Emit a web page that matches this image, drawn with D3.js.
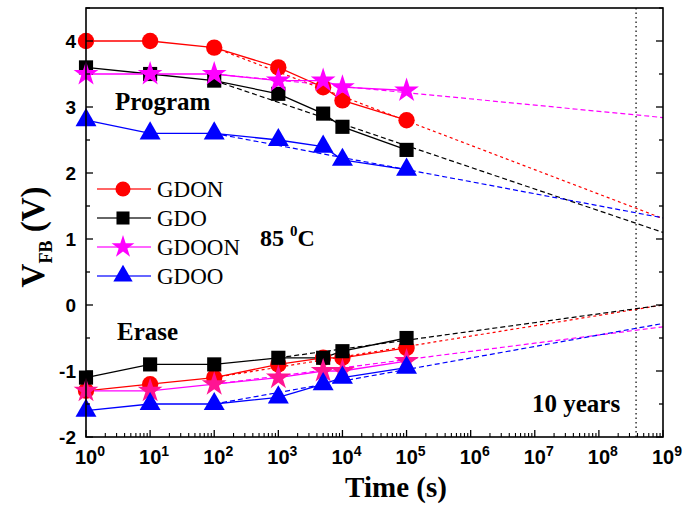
<!DOCTYPE html>
<html><head><meta charset="utf-8">
<script src="https://cdn.jsdelivr.net/npm/d3@7"></script>
<style>body{margin:0;background:#fff}svg{display:block}
.sans{font-family:'Liberation Sans',Arial,sans-serif;font-weight:bold}
.serif{font-family:'Liberation Serif','Times New Roman',serif}
</style>
</head><body>
<script>
const times = [1, 10, 100, 1000, 5000, 10000, 100000];
const seriesNames = ["GDON", "GDO", "GDOON", "GDOO"];
const progGDON  = [4.0, 4.0, 3.9, 3.6, 3.3, 3.1, 2.8];
const progGDO   = [3.6, 3.5, 3.4, 3.2, 2.9, 2.7, 2.35];
const progGDOON = [3.5, 3.5, 3.5, 3.4, 3.4, 3.3, 3.25];
const progGDOO  = [2.8, 2.6, 2.6, 2.5, 2.4, 2.2, 2.05];
const eraseGDON  = [-1.3, -1.2, -1.1, -0.9, -0.8, -0.8, -0.65];
const eraseGDO   = [-1.1, -0.9, -0.9, -0.8, -0.8, -0.7, -0.5];
const eraseGDOON = [-1.3, -1.3, -1.2, -1.1, -1.0, -1.0, -0.85];
const eraseGDOO  = [-1.6, -1.5, -1.5, -1.4, -1.2, -1.1, -0.95];
// extrapolation lines: [t0, v0, t1, v1]
const fitProgGDON  = [100, 3.9, 1e9, 1.31];
const fitProgGDO   = [100, 3.4, 1e9, 1.1];
const fitProgGDOON = [100, 3.5, 1e9, 2.84];
const fitProgGDOO  = [100, 2.6, 1e9, 1.32];
const fitEraseGDON  = [100, -1.1, 1e9, 0.0];
const fitEraseGDO   = [1000, -0.8, 1e9, 0.0];
const fitEraseGDOON = [100, -1.2, 1e9, -0.33];
const fitEraseGDOO  = [100, -1.5, 1e9, -0.28];
const tenYears = 3.8e8;
const xTickExps = [0,1,2,3,4,5,6,7,8,9];
const yTicks = [-2,-1,0,1,2,3,4];

const W = 683, H = 506;
const m = {l:86, r:20, t:8, b:69};
const svg = d3.select("body").append("svg").attr("width", W).attr("height", H);
const x = d3.scaleLog().domain([1, 1e9]).range([m.l, W - m.r]);
const y = d3.scaleLinear().domain([-2, 4.5]).range([H - m.b, m.t]);

const colors = {GDON:"#ff0000", GDO:"#000000", GDOON:"#ff00ff", GDOO:"#0000ff"};
const shapes = {GDON:d3.symbolCircle, GDO:d3.symbolSquare, GDOON:d3.symbolStar, GDOO:d3.symbolTriangle};
const sizes = {GDON:210, GDO:200, GDOON:190, GDOO:190};

const groups = [
  {name:"GDON", prog:progGDON, erase:eraseGDON, fp:fitProgGDON, fe:fitEraseGDON, dash:"3,3"},
  {name:"GDO", prog:progGDO, erase:eraseGDO, fp:fitProgGDO, fe:fitEraseGDO, dash:"5,3"},
  {name:"GDOON", prog:progGDOON, erase:eraseGDOON, fp:fitProgGDOON, fe:fitEraseGDOON, dash:"5,3"},
  {name:"GDOO", prog:progGDOO, erase:eraseGDOO, fp:fitProgGDOO, fe:fitEraseGDOO, dash:"5,3"}
];

svg.append("line").attr("x1", x(tenYears)).attr("x2", x(tenYears))
  .attr("y1", m.t).attr("y2", H - m.b)
  .attr("stroke", "#000").attr("stroke-width", 1.2).attr("stroke-dasharray", "1.5,3");

const line = d3.line().x(d => x(d[0])).y(d => y(d[1]));

groups.forEach(g => {
  [g.fp, g.fe].forEach(f => {
    svg.append("path").attr("d", line([[f[0], f[1]], [f[2], f[3]]]))
      .attr("fill", "none").attr("stroke", colors[g.name]).attr("stroke-width", 1.2)
      .attr("stroke-dasharray", g.dash);
  });
});

groups.forEach(g => {
  [g.prog, g.erase].forEach(vals => {
    svg.append("path").attr("d", line(times.map((t, i) => [t, vals[i]])))
      .attr("fill", "none").attr("stroke", colors[g.name]).attr("stroke-width", 1.3);
  });
});

const sym = d3.symbol();
groups.forEach(g => {
  [["prog", g.prog], ["erase", g.erase]].forEach(([k, vals]) => {
    const fill = (g.name === "GDOON" && k === "erase") ? "#ff1493" : colors[g.name];
    svg.append("g").selectAll("path").data(times.map((t, i) => [t, vals[i]])).join("path")
      .attr("transform", d => `translate(${x(d[0])},${y(d[1])})`)
      .attr("d", sym.type(shapes[g.name]).size(sizes[g.name])())
      .attr("fill", fill);
  });
});

svg.append("rect").attr("x", m.l).attr("y", m.t).attr("width", W - m.r - m.l).attr("height", H - m.b - m.t)
  .attr("fill", "none").attr("stroke", "#000").attr("stroke-width", 1.6);

const yMinor = d3.range(-2, 4.51, 0.5);
yMinor.forEach(v => {
  const major = Number.isInteger(v);
  const len = major ? 7 : 4;
  svg.append("line").attr("x1", m.l).attr("x2", m.l + len).attr("y1", y(v)).attr("y2", y(v)).attr("stroke", "#000").attr("stroke-width", 1.3);
  svg.append("line").attr("x1", W - m.r).attr("x2", W - m.r - len).attr("y1", y(v)).attr("y2", y(v)).attr("stroke", "#000").attr("stroke-width", 1.3);
});
svg.append("g").selectAll("text").data(yTicks).join("text").attr("class", "sans")
  .attr("x", m.l - 10).attr("y", d => y(d) + 7).attr("text-anchor", "end")
  .attr("font-size", 19).text(d => d);

xTickExps.forEach(e => {
  svg.append("line").attr("x1", x(Math.pow(10, e))).attr("x2", x(Math.pow(10, e)))
    .attr("y1", H - m.b).attr("y2", H - m.b - 7).attr("stroke", "#000").attr("stroke-width", 1.3);
  if (e < 9) {
    for (let k = 2; k <= 9; k++) {
      const xv = x(k * Math.pow(10, e));
      svg.append("line").attr("x1", xv).attr("x2", xv).attr("y1", H - m.b).attr("y2", H - m.b - 4)
        .attr("stroke", "#000").attr("stroke-width", 1.1);
    }
  }
  const t = svg.append("text").attr("class", "sans").attr("x", x(Math.pow(10, e)) + 4).attr("y", H - m.b + 27)
    .attr("text-anchor", "middle").attr("font-size", 20);
  t.append("tspan").text("10");
  t.append("tspan").attr("dy", -8).attr("font-size", 14).text(e);
});

svg.append("text").attr("class", "serif").attr("font-weight", "bold")
  .attr("x", 396).attr("y", 497).attr("text-anchor", "middle")
  .attr("font-size", 29).text("Time (s)");
const yt = svg.append("text").attr("class", "serif").attr("font-weight", "bold")
  .attr("transform", "translate(44,237) rotate(-90)").attr("text-anchor", "middle")
  .attr("font-size", 33);
yt.append("tspan").text("V");
yt.append("tspan").attr("dy", 8).attr("font-size", 18).text("FB");
yt.append("tspan").attr("dy", -8).text(" (V)");

const ann = (tx, ax, ay, fs) => svg.append("text").attr("class", "serif").attr("font-weight", "bold")
  .attr("x", ax).attr("y", ay).attr("font-size", fs).text(tx);
ann("Program", 115, 110, 25);
ann("Erase", 117, 340, 25);
ann("10 years", 532, 412, 25);
const tc = svg.append("text").attr("class", "serif").attr("font-weight", "bold")
  .attr("x", 260).attr("y", 246).attr("font-size", 24);
tc.append("tspan").text("85 ");
tc.append("tspan").attr("dy", -10).attr("font-size", 15).text("0");
tc.append("tspan").attr("dy", 10).text("C");

const legendY = [189, 218, 247, 276];
seriesNames.forEach((n, i) => {
  const ly = legendY[i];
  svg.append("line").attr("x1", 97).attr("x2", 151).attr("y1", ly).attr("y2", ly)
    .attr("stroke", colors[n]).attr("stroke-width", 1.3).attr("opacity", 0.8);
  svg.append("path").attr("transform", `translate(123,${ly})`)
    .attr("d", sym.type(shapes[n]).size(sizes[n] * 0.85)()).attr("fill", colors[n]);
  svg.append("text").attr("class", "serif").attr("x", 157).attr("y", ly + 8)
    .attr("font-size", 23).text(n);
});
</script>
</body></html>
